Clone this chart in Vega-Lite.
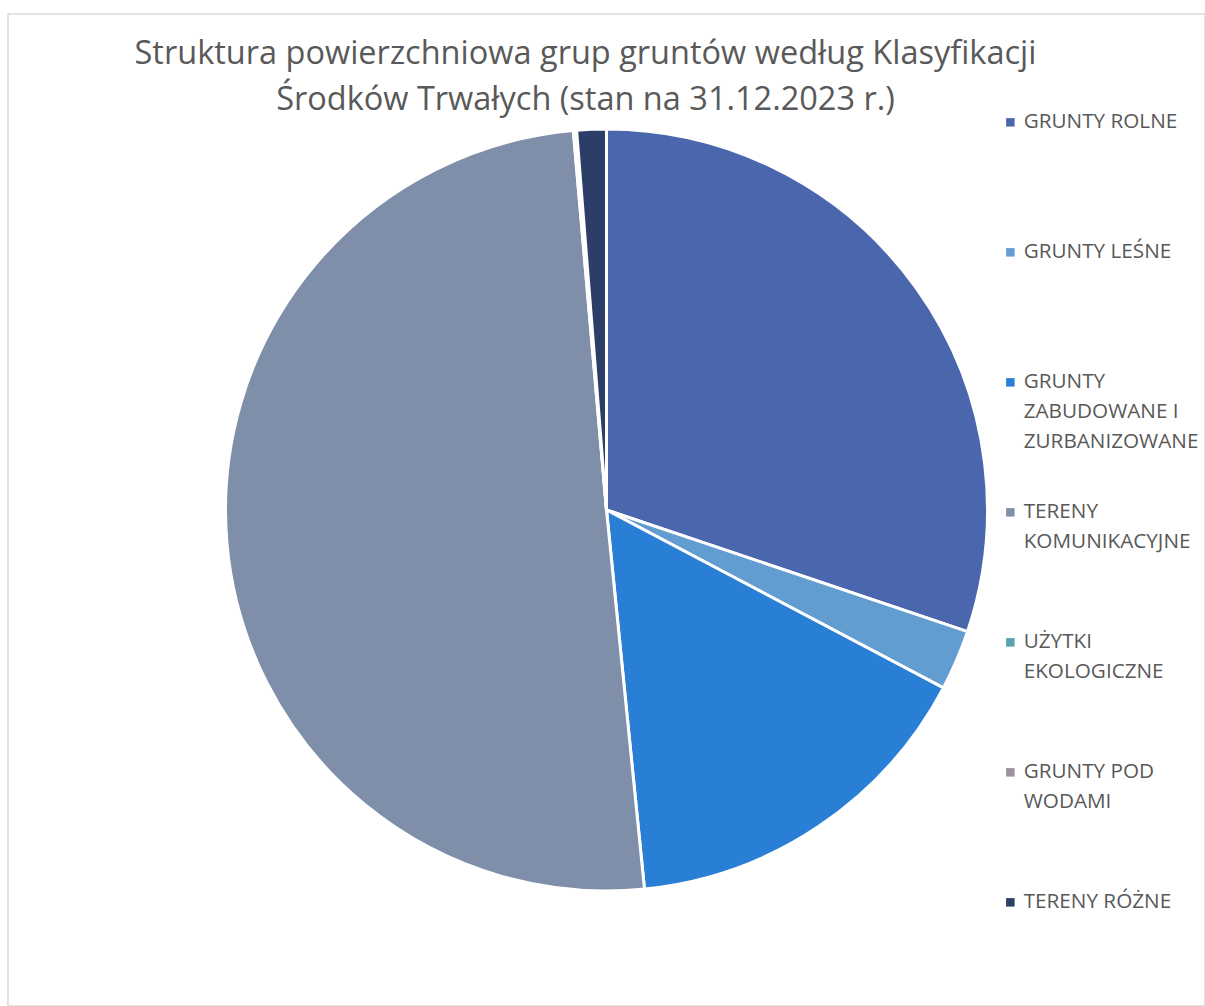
{
  "$schema": "https://vega.github.io/schema/vega-lite/v6.json",
  "autosize": {"type": "none"},
  "padding": {"left": 8, "top": 14, "right": 0, "bottom": 0},
  "width": 1197,
  "height": 992,
  "background": "white",
  "config": {
    "view": {"stroke": null},
    "style": {"guide-label": {"lineHeight": 30}}
  },
  "title": {
    "text": ["Struktura powierzchniowa grup gruntów według Klasyfikacji", "Środków Trwałych (stan na 31.12.2023 r.)"],
    "font": "Open Sans",
    "fontSize": 32.5,
    "fontWeight": "normal",
    "color": "#595959",
    "lineHeight": 46,
    "anchor": "middle",
    "frame": "group",
    "orient": "top",
    "offset": -103,
    "dx": -21
  },
  "data": {
    "values": [
      {"grupa": "GRUNTY ROLNE", "udzial": 30.17, "nr": 1},
      {"grupa": "GRUNTY LEŚNE", "udzial": 2.56, "nr": 2},
      {"grupa": "GRUNTY ZABUDOWANE I ZURBANIZOWANE", "udzial": 15.68, "nr": 3},
      {"grupa": "TERENY KOMUNIKACYJNE", "udzial": 50.2, "nr": 4},
      {"grupa": "UŻYTKI EKOLOGICZNE", "udzial": 0.07, "nr": 5},
      {"grupa": "GRUNTY POD WODAMI", "udzial": 0.07, "nr": 6},
      {"grupa": "TERENY RÓŻNE", "udzial": 1.25, "nr": 7}
    ]
  },
  "layer": [
    {
      "data": {"values": [{}]},
      "mark": {"type": "rect", "filled": false, "stroke": "#d9d9d9", "strokeWidth": 1.5, "x2Offset": 6, "y2Offset": 6},
      "encoding": {}
    },
    {
      "mark": {"type": "arc", "outerRadius": 381, "stroke": "white", "strokeWidth": 3},
      "encoding": {
        "theta": {"field": "udzial", "type": "quantitative", "stack": true},
        "order": {"field": "nr", "type": "quantitative"},
        "color": {
          "field": "grupa",
          "type": "nominal",
          "sort": ["GRUNTY ROLNE", "GRUNTY LEŚNE", "GRUNTY ZABUDOWANE I ZURBANIZOWANE", "TERENY KOMUNIKACYJNE", "UŻYTKI EKOLOGICZNE", "GRUNTY POD WODAMI", "TERENY RÓŻNE"],
          "scale": {
            "domain": ["GRUNTY ROLNE", "GRUNTY LEŚNE", "GRUNTY ZABUDOWANE I ZURBANIZOWANE", "TERENY KOMUNIKACYJNE", "UŻYTKI EKOLOGICZNE", "GRUNTY POD WODAMI", "TERENY RÓŻNE"],
            "range": ["#4a66ac", "#629dd1", "#297fd5", "#7f8fa9", "#5aa2ae", "#9d90a0", "#2c3d67"]
          },
          "legend": {
            "orient": "none",
            "legendX": 992,
            "legendY": 98,
            "title": null,
            "symbolType": "square",
            "symbolSize": 72,
            "symbolStrokeWidth": 0,
            "labelFont": "Open Sans",
            "labelFontSize": 20.7,
            "labelColor": "#595959",
            "labelLimit": 400,
            "labelBaseline": "middle",
            "labelOffset": 3,
            "rowPadding": 48,
            "labelExpr": "datum.label == 'GRUNTY ZABUDOWANE I ZURBANIZOWANE' ? ['GRUNTY', 'ZABUDOWANE I', 'ZURBANIZOWANE'] : datum.label == 'TERENY KOMUNIKACYJNE' ? ['TERENY', 'KOMUNIKACYJNE', ''] : datum.label == 'UŻYTKI EKOLOGICZNE' ? ['UŻYTKI', 'EKOLOGICZNE', ''] : datum.label == 'GRUNTY POD WODAMI' ? ['GRUNTY POD', 'WODAMI', ''] : [datum.label, '', '']"
          }
        }
      }
    }
  ]
}
